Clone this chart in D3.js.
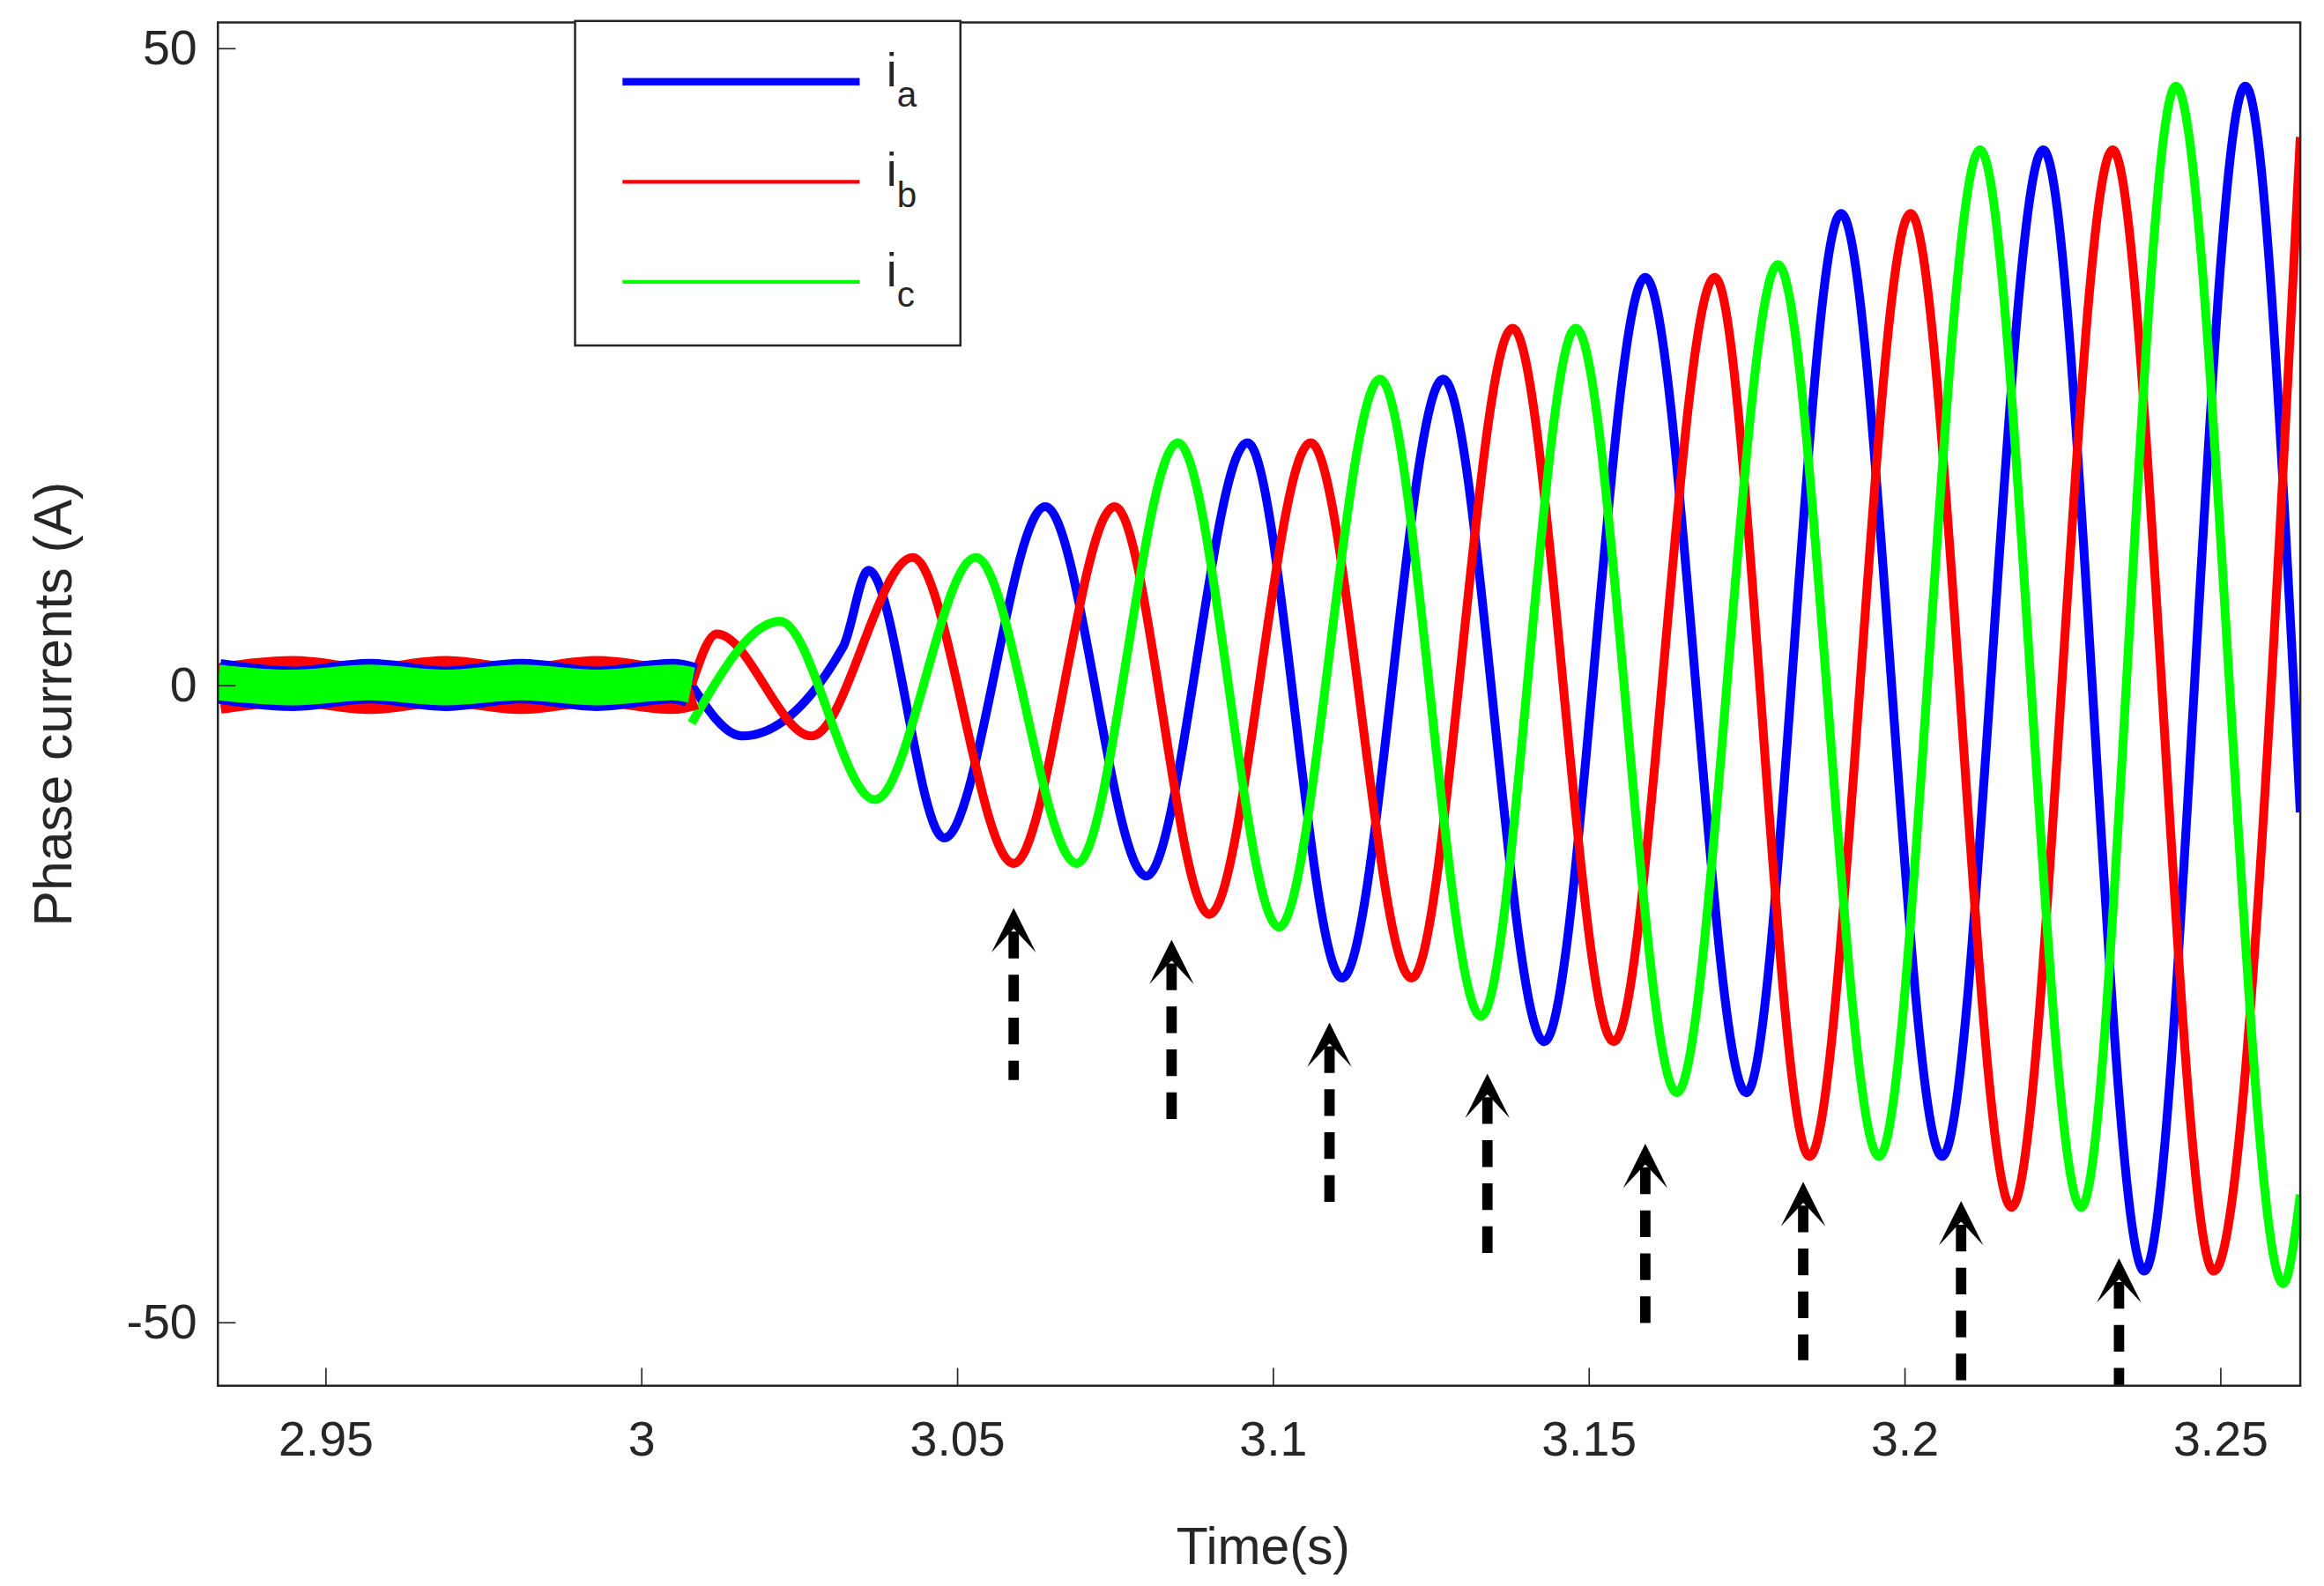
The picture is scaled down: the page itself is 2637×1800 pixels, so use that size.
<!DOCTYPE html>
<html><head><meta charset="utf-8">
<script src="https://cdn.jsdelivr.net/npm/d3@7"></script>
<style>body{margin:0;background:#fff}svg{display:block}</style>
</head><body>
<svg id="c" width="2637" height="1800" viewBox="0 0 1568 1070"></svg>
<script>
// extrema (time s, current A)
const preT = [2.933,2.945,2.957,2.969,2.981,2.993,3.005,3.008];
const preA = [0.3,-0.3,0.3,-0.3,0.3,-0.3,0.3,0];
const preB = [-0.3,0.3,-0.3,0.3,-0.3,0.3,-0.3,0];
const preC = [0.2,-0.2,0.2,-0.2,0.2,-0.2,0.2,0];
const iaT = [3.008,3.016,3.032,3.036,3.048,3.064,3.080,3.096,3.111,3.127,3.143,3.159,3.175,3.190,3.206,3.222,3.238,3.254,3.2627];
const iaV = [0,-4,3,9,-12,14,-15,19,-23,24,-28,32,-32,37,-37,42,-46,47,-10];
const ibT = [3.008,3.012,3.027,3.043,3.059,3.075,3.090,3.106,3.122,3.138,3.154,3.170,3.185,3.201,3.217,3.233,3.249,3.2627];
const ibV = [0,4,-4,10,-14,14,-18,19,-23,28,-28,32,-37,37,-41,42,-46,43];
const icT = [3.008,3.022,3.037,3.053,3.069,3.085,3.101,3.117,3.133,3.148,3.164,3.180,3.196,3.212,3.228,3.243,3.260,3.2627];
const icV = [-3,5,-9,10,-14,19,-19,24,-26,28,-32,33,-37,42,-41,47,-47,-40];
const arrowT = [3.059,3.084,3.109,3.134,3.159,3.184,3.209,3.234];
const arrowTip = [-17.5,-20,-26.5,-30.5,-36,-39,-40.5,-45];
const arrowTail = [-31,-35,-41.5,-45.5,-51,-53,-55,-55];
const xTicks = [2.95,3,3.05,3.1,3.15,3.2,3.25];
const xTickLabels = ["2.95","3","3.05","3.1","3.15","3.2","3.25"];
const yTicks = [-50,0,50];
const yTickLabels = ["-50","0","50"];
const legendNames = ["a","b","c"];
const colors = ["#0000ff","#ff0000","#00ff00"];

const svg = d3.select("#c");
const L=147,R=1552,T=15,B=935;
const x = d3.scaleLinear().domain([2.933,3.2627]).range([L,R]);
const y = d3.scaleLinear().domain([52,-55]).range([T,B]);
const font = "Arial, 'Liberation Sans', sans-serif";

svg.append("defs").append("clipPath").attr("id","cl").append("rect")
  .attr("x",L).attr("y",T).attr("width",R-L).attr("height",B-T);
const g = svg.append("g").attr("clip-path","url(#cl)");
const line = d3.line().x(d=>x(d[0])).y(d=>y(d[1])).curve(d3.curveMonotoneX);
const pre = [preA,preB,preC];
const series = [[iaT,iaV],[ibT,ibV],[icT,icV]];
series.forEach((s,i)=>{
  const pts = s[0].map((t,j)=>[t,s[1][j]]);
  g.append("path").attr("d",line(pts)).attr("fill","none").attr("stroke",colors[i])
    .attr("stroke-width",6).attr("stroke-linejoin","round");
});
// thick noisy band before 3.008
[1,0,2].forEach(i=>{
  g.append("path").attr("d",line(preT.map((t,j)=>[t,pre[i][j]])))
   .attr("fill","none").attr("stroke",colors[i]).attr("stroke-width",i===1?34:i===0?30:24);
});

// arrows
arrowT.forEach((t,k)=>{
  const ax=x(t), ty=y(arrowTip[k]), by=y(arrowTail[k]);
  svg.append("line").attr("x1",ax).attr("x2",ax).attr("y1",ty+16).attr("y2",Math.min(by,B))
    .attr("stroke","#000").attr("stroke-width",7).attr("stroke-dasharray","18,11");
  svg.append("path").attr("d",`M${ax-15},${ty+30} L${ax},${ty} L${ax+15},${ty+30} L${ax},${ty+14} Z`)
    .attr("fill","#000");
});

// axes
svg.append("rect").attr("x",L).attr("y",T).attr("width",R-L).attr("height",B-T)
  .attr("fill","none").attr("stroke","#262626").attr("stroke-width",1.5);
const xa = svg.append("g").attr("transform",`translate(0,${B})`)
  .call(d3.axisBottom(x).tickValues(xTicks).tickSizeInner(-12).tickSizeOuter(0).tickPadding(24)
    .tickFormat((d,i)=>xTickLabels[i]));
const ya = svg.append("g").attr("transform",`translate(${L},0)`)
  .call(d3.axisLeft(y).tickValues(yTicks).tickSizeInner(-12).tickSizeOuter(0).tickPadding(14)
    .tickFormat((d,i)=>yTickLabels[i]));
[xa,ya].forEach(a=>{a.select(".domain").remove();
  a.selectAll("line").attr("stroke","#262626");
  a.selectAll("text").attr("font-family",font).attr("font-size",33).attr("fill","#262626");});
svg.append("text").attr("x",x(3.0985)).attr("y",1055).attr("text-anchor","middle")
  .attr("font-family",font).attr("font-size",35).attr("fill","#262626").text("Time(s)");
svg.append("text").attr("transform",`translate(48,${(T+B)/2}) rotate(-90)`).attr("text-anchor","middle")
  .attr("font-family",font).attr("font-size",36).attr("fill","#262626").text("Phase currents (A)");

// legend
const lg = svg.append("g");
lg.append("rect").attr("x",388).attr("y",14).attr("width",260).attr("height",219)
  .attr("fill","#fff").attr("stroke","#262626").attr("stroke-width",1.5);
legendNames.forEach((n,i)=>{
  const ly = 55+i*67.5;
  lg.append("line").attr("x1",420).attr("x2",580).attr("y1",ly).attr("y2",ly)
    .attr("stroke",colors[i]).attr("stroke-width",i===0?5:2.5);
  const t = lg.append("text").attr("x",598).attr("y",ly+3).attr("font-family",font)
    .attr("font-size",32).attr("fill","#262626");
  t.append("tspan").text("i");
  t.append("tspan").attr("dy",14).attr("font-size",24).text(n);
});
</script>
</body></html>
